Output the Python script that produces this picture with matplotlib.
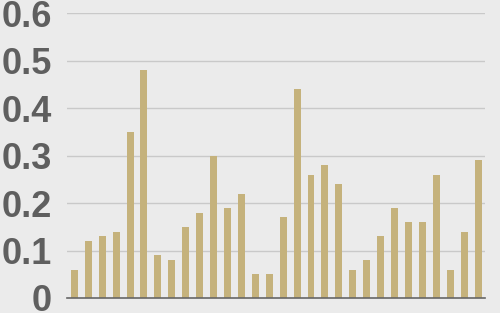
#!/usr/bin/env python3
"""Bar chart of thirty values on a light grey panel."""

import matplotlib
matplotlib.use("Agg")
import matplotlib.pyplot as plt
import numpy as np

values = [0.06, 0.12, 0.13, 0.14, 0.35, 0.48, 0.09, 0.08, 0.15, 0.18,
          0.30, 0.19, 0.22, 0.05, 0.05, 0.17, 0.44, 0.26, 0.28, 0.24,
          0.06, 0.08, 0.13, 0.19, 0.16, 0.16, 0.26, 0.06, 0.14, 0.29]
y_ticks = [0, 0.1, 0.2, 0.3, 0.4, 0.5, 0.6]
y_labels = ["0", "0.1", "0.2", "0.3", "0.4", "0.5", "0.6"]

BG = "#ebebeb"
BAR = "#c5b27c"
GRID = "#c9c9c9"
TEXT = "#5f5f5f"


def main() -> None:
    fig = plt.figure(figsize=(5, 3.13), dpi=100, facecolor=BG)
    ax = fig.add_axes([0.134, 0.048, 0.836, 0.9095], facecolor=BG)

    x = np.arange(len(values))
    ax.bar(x, values, width=0.5, color=BAR, zorder=3)

    for t in y_ticks[1:]:
        ax.axhline(t, color=GRID, lw=1.0, zorder=1)

    ax.set_xlim(-0.53, len(values) - 0.5)
    ax.set_ylim(0, 0.6)
    ax.set_xticks([])
    ax.set_yticks(y_ticks)
    ax.set_yticklabels(y_labels, fontfamily="Liberation Sans", fontweight="bold",
                       fontsize=26, color=TEXT)
    ax.tick_params(axis="y", length=0, pad=11)

    for side in ("top", "right", "left"):
        ax.spines[side].set_visible(False)
    ax.spines["bottom"].set_color("#666666")
    ax.spines["bottom"].set_linewidth(1.2)
    ax.spines["bottom"].set_zorder(4)

    fig.savefig("out.png", dpi=100, facecolor=BG)
    plt.close(fig)


if __name__ == "__main__":
    main()
